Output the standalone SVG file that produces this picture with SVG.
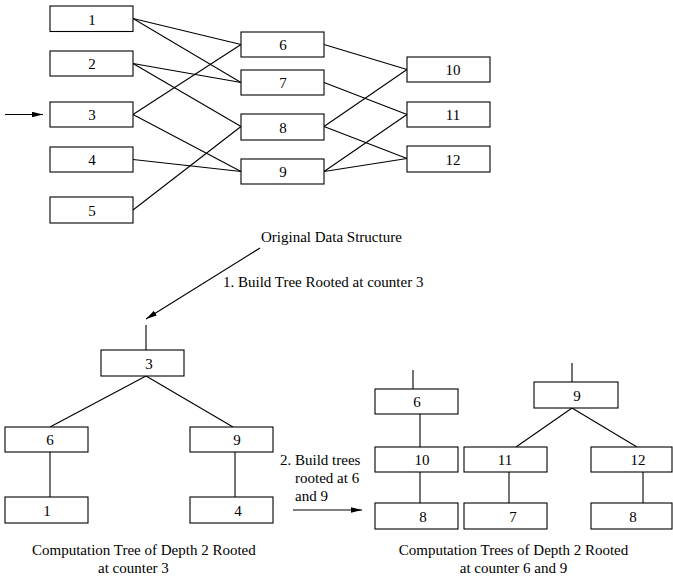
<svg xmlns="http://www.w3.org/2000/svg" width="673" height="581" viewBox="0 0 673 581">
<style>
rect{fill:#fff;stroke:#000;stroke-width:1.1}
line{stroke:#000;stroke-width:1.1}
text{font-family:"Liberation Serif","Times New Roman",serif;font-size:15px;fill:#000}
.c{text-anchor:middle}
</style>
<defs>
<marker id="ah" markerUnits="userSpaceOnUse" markerWidth="12" markerHeight="6" refX="11" refY="2.75" orient="auto">
<path d="M0,0 L11,2.75 L0,5.5 z" fill="#000"/>
</marker>
</defs>
<g id="connectors">
<line x1="5" y1="114.5" x2="43" y2="114.5" marker-end="url(#ah)"/>
<line x1="133" y1="18.5" x2="241" y2="44.5"/>
<line x1="133" y1="18.5" x2="241" y2="82.5"/>
<line x1="133" y1="63.5" x2="241" y2="82.5"/>
<line x1="133" y1="63.5" x2="241" y2="126.5"/>
<line x1="133" y1="114.5" x2="241" y2="44.5"/>
<line x1="133" y1="114.5" x2="241" y2="171.5"/>
<line x1="133" y1="159.5" x2="241" y2="171.5"/>
<line x1="133" y1="210" x2="241" y2="126.5"/>
<line x1="324" y1="44.5" x2="407" y2="69.5"/>
<line x1="324" y1="82.5" x2="407" y2="114.5"/>
<line x1="324" y1="126.5" x2="407" y2="69.5"/>
<line x1="324" y1="126.5" x2="407" y2="158.5"/>
<line x1="324" y1="171.5" x2="407" y2="114.5"/>
<line x1="324" y1="171.5" x2="407" y2="158.5"/>
<line x1="260" y1="248" x2="146" y2="319" marker-end="url(#ah)"/>
<line x1="146" y1="325" x2="146" y2="350"/>
<line x1="146" y1="376" x2="50" y2="427"/>
<line x1="146" y1="376" x2="233" y2="427"/>
<line x1="50" y1="452" x2="50" y2="497"/>
<line x1="235" y1="452" x2="235" y2="497"/>
<line x1="293" y1="510" x2="362" y2="510" marker-end="url(#ah)"/>
<line x1="413" y1="370" x2="413" y2="389"/>
<line x1="420" y1="414" x2="420" y2="447"/>
<line x1="420" y1="472" x2="420" y2="503"/>
<line x1="509" y1="472" x2="509" y2="503"/>
<line x1="572" y1="363" x2="572" y2="382"/>
<line x1="572" y1="408" x2="516" y2="447"/>
<line x1="572" y1="408" x2="637" y2="447"/>
<line x1="643" y1="472" x2="643" y2="503"/>
</g>
<g id="n1"><rect x="50" y="6" width="83" height="25.5"/><text class="c" x="92" y="24.5">1</text></g>
<g id="n2"><rect x="50" y="51" width="83" height="25"/><text class="c" x="92" y="69">2</text></g>
<g id="n3"><rect x="50" y="102" width="83" height="25"/><text class="c" x="92" y="120">3</text></g>
<g id="n4"><rect x="50" y="147" width="83" height="25"/><text class="c" x="92" y="165">4</text></g>
<g id="n5"><rect x="50" y="197" width="83" height="26"/><text class="c" x="92" y="215.5">5</text></g>
<g id="n6"><rect x="241" y="32" width="83" height="25"/><text class="c" x="283" y="50">6</text></g>
<g id="n7"><rect x="241" y="70" width="83" height="25"/><text class="c" x="283" y="88">7</text></g>
<g id="n8"><rect x="241" y="114" width="83" height="26"/><text class="c" x="283" y="132.5">8</text></g>
<g id="n9"><rect x="241" y="159" width="83" height="25"/><text class="c" x="283" y="177">9</text></g>
<g id="n10"><rect x="407" y="57" width="83" height="25"/><text class="c" x="453" y="75">10</text></g>
<g id="n11"><rect x="407" y="102" width="83" height="25"/><text class="c" x="453" y="120">11</text></g>
<g id="n12"><rect x="407" y="146" width="83" height="26"/><text class="c" x="453" y="164.5">12</text></g>
<g id="label-original"><text x="261" y="242">Original Data Structure</text></g>
<g id="label-step1"><text x="223" y="287">1. Build Tree Rooted at counter 3</text></g>
<g id="t3"><rect x="101" y="350" width="83" height="26"/><text class="c" x="149" y="368.5">3</text></g>
<g id="t6"><rect x="5" y="427" width="83" height="25"/><text class="c" x="50" y="445">6</text></g>
<g id="t9"><rect x="190" y="427" width="83" height="25"/><text class="c" x="237" y="445">9</text></g>
<g id="t1"><rect x="5" y="497" width="83" height="26"/><text class="c" x="47" y="515.5">1</text></g>
<g id="t4"><rect x="190" y="497" width="83" height="26"/><text class="c" x="238" y="515.5">4</text></g>
<g id="label-step2"><text x="280" y="465">2. Build trees</text><text x="295" y="483">rooted at 6</text><text x="295" y="501">and 9</text></g>
<g id="r6"><rect x="375" y="389" width="83" height="25"/><text class="c" x="417" y="407">6</text></g>
<g id="r10"><rect x="375" y="447" width="83" height="25"/><text class="c" x="422" y="465">10</text></g>
<g id="r8a"><rect x="375" y="503" width="83" height="26"/><text class="c" x="423" y="521.5">8</text></g>
<g id="r9"><rect x="534" y="382" width="84" height="26"/><text class="c" x="577" y="400.5">9</text></g>
<g id="r11"><rect x="464" y="447" width="83" height="25"/><text class="c" x="505" y="465">11</text></g>
<g id="r7"><rect x="464" y="503" width="83" height="26"/><text class="c" x="513" y="521.5">7</text></g>
<g id="r12"><rect x="591" y="447" width="81" height="25"/><text class="c" x="638" y="465">12</text></g>
<g id="r8b"><rect x="591" y="503" width="81" height="26"/><text class="c" x="633" y="521.5">8</text></g>
<g id="caption-left"><text x="32" y="555">Computation Tree of Depth 2 Rooted</text><text x="98" y="573">at counter 3</text></g>
<g id="caption-right"><text class="c" x="513.5" y="555">Computation Trees of Depth 2 Rooted</text><text class="c" x="513.5" y="573">at counter 6 and 9</text></g>
</svg>
